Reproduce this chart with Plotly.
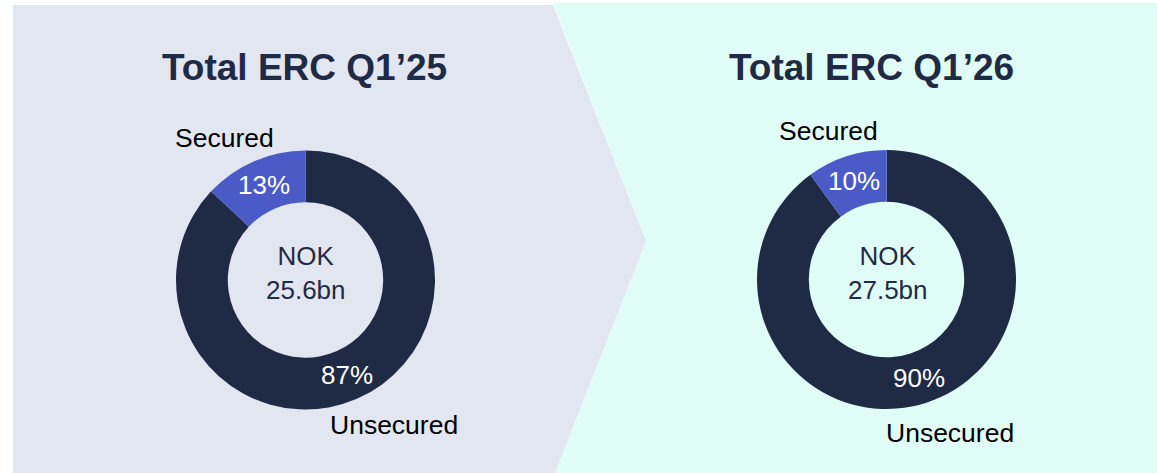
import math
import plotly.graph_objects as go

W, H = 1157, 473

# ---- data ----
categories = ["Secured", "Unsecured"]
values_q125 = [13, 87]
values_q126 = [10, 90]
titles = ["Total ERC Q1’25", "Total ERC Q1’26"]
center_texts = ["NOK<br>25.6bn", "NOK<br>27.5bn"]

NAVY = "#1F2A45"
BLUE = "#4A5BC8"
BG_LEFT = "#E2E6F1"
BG_RIGHT = "#E0FCF7"
FONT = "Liberation Sans, Arial, sans-serif"
slice_colors = {"Secured": BLUE, "Unsecured": NAVY}
HOLE = 0.6


def px(x):
    return x / W


def py(y):
    return 1 - y / H


def pie_domain(cx, cy, r):
    return dict(x=[px(cx - r), px(cx + r)], y=[py(cy + r), py(cy - r)])


fig = go.Figure()
annotations = []

donuts = [
    dict(vals=values_q125, cx=305.5, cy=280, r=129.5),
    dict(vals=values_q126, cx=886.5, cy=279.5, r=129.5),
]
for d in donuts:
    # clockwise from 12 o'clock: Unsecured first so Secured sits just left of 12
    labs = categories[::-1]
    vals = d["vals"][::-1]
    fig.add_trace(go.Pie(
        labels=labs,
        values=vals,
        hole=HOLE,
        sort=False,
        direction="clockwise",
        rotation=0,
        marker=dict(colors=[slice_colors[l] for l in labs], line=dict(width=0)),
        textinfo="none",
        hoverinfo="label+percent",
        showlegend=False,
        domain=pie_domain(d["cx"], d["cy"], d["r"]),
    ))
    # percentage labels at the mid-ring point of each slice (counter-clockwise from 12)
    total = sum(d["vals"])
    cum = 0
    rmid = d["r"] * (1 + HOLE) / 2
    for v in d["vals"]:
        theta = 2 * math.pi * (cum + v / 2) / total
        cum += v
        tx = d["cx"] - rmid * math.sin(theta)
        ty = d["cy"] - rmid * math.cos(theta)
        annotations.append(dict(text=f"{v}%", x=px(tx), y=py(ty), xref="paper", yref="paper",
                                showarrow=False, xanchor="center", yanchor="middle",
                                font=dict(family=FONT, size=26, color="white")))

shapes = [
    dict(type="path", xref="paper", yref="paper",
         path=f"M {px(553)},{py(3)} L {px(1157)},{py(3)} L {px(1157)},{py(473)} L {px(555)},{py(473)} L {px(646)},{py(241)} Z",
         fillcolor=BG_RIGHT, line=dict(width=0), layer="below"),
    dict(type="path", xref="paper", yref="paper",
         path=f"M {px(13)},{py(5)} L {px(553)},{py(5)} L {px(646)},{py(241)} L {px(555)},{py(473)} L {px(13)},{py(473)} Z",
         fillcolor=BG_LEFT, line=dict(width=0), layer="below"),
]

title_pos = [(305, 68), (871, 68)]
for t, (x, y) in zip(titles, title_pos):
    annotations.append(dict(text=f"<b>{t}</b>", x=px(x), y=py(y), xref="paper", yref="paper",
                            showarrow=False, xanchor="center", yanchor="middle",
                            font=dict(family=FONT, size=37, color=NAVY)))

center_pos = [(305.5, 273), (888, 273)]
for t, (x, y) in zip(center_texts, center_pos):
    annotations.append(dict(text=t, x=px(x), y=py(y), xref="paper", yref="paper",
                            showarrow=False, xanchor="center", yanchor="middle",
                            font=dict(family=FONT, size=26, color=NAVY)))

label_pos = [
    ("Secured", 224.5, 138), ("Unsecured", 394, 425),
    ("Secured", 829, 131), ("Unsecured", 950, 433),
]
for t, x, y in label_pos:
    annotations.append(dict(text=t, x=px(x), y=py(y), xref="paper", yref="paper",
                            showarrow=False, xanchor="center", yanchor="middle",
                            font=dict(family=FONT, size=26.5, color="black")))

fig.update_layout(
    width=W, height=H,
    margin=dict(l=0, r=0, t=0, b=0),
    paper_bgcolor="white",
    plot_bgcolor="white",
    shapes=shapes,
    annotations=annotations,
    showlegend=False,
)

fig.write_html("out.html", config={"displayModeBar": False},
               post_script="document.body.style.margin='0';")
